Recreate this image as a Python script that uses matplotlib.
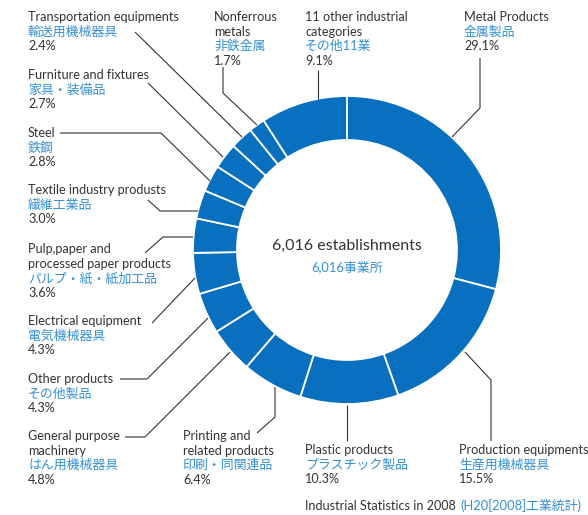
import matplotlib
matplotlib.use("Agg")
import matplotlib.pyplot as plt

# data, clockwise from the top
labels_en = ["Metal Products", "Production equipments", "Plastic products",
             "Printing and\nrelated products", "General purpose\nmachinery",
             "Other products", "Electrical equipment",
             "Pulp,paper and\nprocessed paper products", "Textile industry produsts",
             "Steel", "Furniture and fixtures", "Transportation equipments",
             "Nonferrous\nmetals", "11 other industrial\ncategories"]
labels_jp = ["金属製品", "生産用機械器具", "プラスチック製品", "印刷・同関連品",
             "はん用機械器具", "その他製品", "電気機械器具", "パルプ・紙・紙加工品",
             "繊維工業品", "鉄鋼", "家具・装備品", "輸送用機械器具", "非鉄金属",
             "その他11業"]
shares = [29.1, 15.5, 10.3, 6.4, 4.8, 4.3, 4.3, 3.6, 3.0, 2.8, 2.7, 2.4, 1.7, 9.1]
total_en = "6,016 establishments"
total_jp = "6,016事業所"

# layout (pixels): label top-left and leader polyline
label_pos = [(464, 17), (459, 450), (305, 450), (183, 436), (28, 436),
             (28, 379), (28, 321), (28, 249), (28, 190), (28, 133),
             (28, 75), (28, 17), (214, 17), (305, 17)]
leaders = [
    [(480, 58), (480, 108), (452, 137)],
    [(491, 441), (491, 380), (465, 352)],
    [(347, 441), (347, 405)],
    [(257, 433), (275, 417), (275, 387)],
    [(125, 437), (145, 437), (230, 352)],
    [(120, 379), (147, 379), (208, 318)],
    [(152, 323), (195, 278)],
    [(145, 253), (163, 237), (193, 237)],
    [(148, 200), (160, 211), (198, 211)],
    [(60, 133), (161, 133), (210, 181)],
    [(148, 83), (223, 157)],
    [(135, 32), (242, 137)],
    [(223, 67), (223, 93), (257, 125)],
    [(318, 70), (318, 99)],
]

BLUE = "#0870bf"
TXT_BLUE = "#3590d4"
GRAY = "#333333"
FONT = ["Lato", "Noto Sans CJK JP"]

fig = plt.figure(figsize=(5.88, 5.15), dpi=100)
ax = fig.add_axes([0, 0, 1, 1])

ax.pie(shares, radius=154, center=(347, 250), startangle=-90, counterclock=True,
       colors=[BLUE] * len(shares), frame=True,
       wedgeprops=dict(width=44, edgecolor="white", linewidth=1.3))
ax.set_xlim(0, 588)
ax.set_ylim(515, 0)
ax.set_aspect("equal")
ax.axis("off")

step = 14.6
for en, jp, v, (x, y), pts in zip(labels_en, labels_jp, shares, label_pos, leaders):
    for i, t in enumerate(en.split("\n")):
        ax.text(x, y + i * step, t, color=GRAY, fontsize=9.1, family=FONT,
                ha="left", va="center")
    n = en.count("\n") + 1
    ax.text(x, y + n * step, jp, color=TXT_BLUE, fontsize=9.3, family=FONT,
            ha="left", va="center")
    ax.text(x, y + (n + 1) * step, f"{v:.1f}%", color=GRAY, fontsize=9.1,
            family=FONT, ha="left", va="center")
    xs, ys = zip(*pts)
    ax.plot(xs, ys, color="#333333", lw=0.8, solid_capstyle="butt")

ax.text(347, 246, total_en, color=GRAY, fontsize=11.5, family=FONT,
        ha="center", va="center")
ax.text(347, 267, total_jp, color=TXT_BLUE, fontsize=9.3, family=FONT,
        ha="center", va="center")

src = ax.text(305, 506, "Industrial Statistics in 2008", color=GRAY,
              fontsize=9.1, family=FONT, ha="left", va="center")
ax.annotate("(H20[2008]工業統計)", xy=(1, 0.5), xycoords=src,
            xytext=(3, 0), textcoords="offset points", color=TXT_BLUE,
            fontsize=9.3, family=FONT, ha="left", va="center")

fig.savefig("out.png", dpi=100)
